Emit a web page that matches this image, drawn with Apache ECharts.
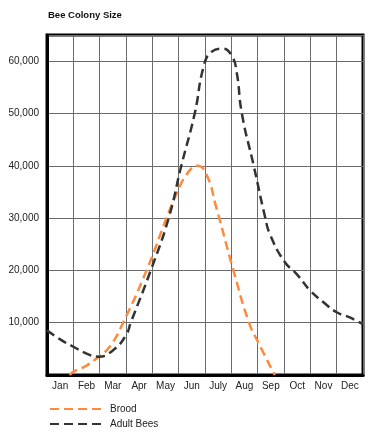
<!DOCTYPE html>
<html>
<head>
<meta charset="utf-8">
<script src="https://cdn.jsdelivr.net/npm/echarts@6/dist/echarts.min.js"></script>
<style>
  html, body { margin: 0; padding: 0; background: #fff; }
  #chart { width: 382px; height: 438px; }
</style>
</head>
<body>
<div id="chart"></div>
<script>
// Month labels (category axis)
var months = ['Jan', 'Feb', 'Mar', 'Apr', 'May', 'Jun', 'July', 'Aug', 'Sep', 'Oct', 'Nov', 'Dec'];

// Brood: position in months from start of Jan, and colony count
var broodX = [0.86, 1.0, 1.5, 1.96, 2.38, 2.89, 3.78, 4.54, 4.95, 5.3, 5.7, 6.05, 6.43, 7.08, 7.67, 7.98, 8.65];
var broodY = [0, 600, 1800, 3500, 5400, 10000, 20000, 30000, 35000, 38300, 40000, 38400, 32000, 20000, 10000, 6650, 0];

// Adult bees
var adultX = [0, 0.5, 1.0, 1.5, 1.95, 2.5, 3.0, 3.18, 3.94, 4.62, 5.10, 5.61, 5.95, 6.25, 6.68, 7.02, 7.2, 7.40, 7.85, 8.29, 8.46, 9.0, 9.5, 10.0, 10.5, 11.0, 11.5, 12.0];
var adultY = [8550, 6800, 5400, 4100, 3500, 4700, 7600, 10000, 20000, 30000, 40000, 50000, 59000, 61800, 62400, 61000, 58000, 50000, 40000, 30000, 27000, 21800, 19200, 16100, 13900, 12000, 11000, 9700];

var seriesNames = ['Brood', 'Adult Bees'];

function pairs(xs, ys) {
  return xs.map(function (x, i) { return [x, ys[i]]; });
}

var font = '"Liberation Sans", Arial, sans-serif';
var chart = echarts.init(document.getElementById('chart'), null, { renderer: 'canvas' });

chart.setOption({
  animation: false,
  backgroundColor: '#ffffff',
  title: {
    text: 'Bee Colony Size',
    left: 48,
    top: 10,
    padding: 0,
    textStyle: { fontFamily: font, fontSize: 9.5, fontWeight: 'bold', color: '#111' }
  },
  legend: {
    orient: 'vertical',
    left: 49,
    top: 404,
    padding: 0,
    itemWidth: 51,
    itemHeight: 10,
    itemGap: 5,
    itemStyle: { color: 'rgba(0,0,0,0)', borderColor: 'rgba(0,0,0,0)', borderWidth: 0, opacity: 0 },
    textStyle: { fontFamily: font, fontSize: 10, color: '#222', padding: [0, 0, 0, 4] },
    data: seriesNames
  },
  grid: {
    left: 47,
    right: 19,
    top: 35,
    bottom: 63,
    show: true,
    borderColor: '#000',
    borderWidth: 3,
    containLabel: false
  },
  xAxis: [
    {
      type: 'category',
      data: months,
      boundaryGap: true,
      axisLine: { show: true, lineStyle: { color: '#000', width: 3 } },
      axisTick: { show: false },
      splitLine: { show: true, interval: 0, lineStyle: { color: '#6b6b6b', width: 1 } },
      axisLabel: { interval: 0, margin: 6, fontFamily: font, fontSize: 10, color: '#222' }
    },
    {
      type: 'value',
      min: 0,
      max: 12,
      show: false
    }
  ],
  yAxis: {
    type: 'value',
    min: 0,
    max: 65000,
    interval: 10000,
    axisLine: { show: true, lineStyle: { color: '#000', width: 3 } },
    axisTick: { show: false },
    splitLine: { show: true, lineStyle: { color: '#6b6b6b', width: 1 } },
    axisLabel: {
      margin: 8,
      fontFamily: font,
      fontSize: 10,
      color: '#222',
      showMinLabel: false,
      showMaxLabel: false,
      formatter: function (v) { return v === 0 ? '' : v.toLocaleString('en-US'); }
    }
  },
  series: [
    {
      name: seriesNames[0],
      type: 'line',
      xAxisIndex: 1,
      smooth: 0.5,
      symbol: 'none',
      data: pairs(broodX, broodY),
      lineStyle: { color: '#ff8a3d', width: 2.5, type: [9, 5] },
      itemStyle: { color: '#ff8a3d' },
      z: 3
    },
    {
      name: seriesNames[1],
      type: 'line',
      xAxisIndex: 1,
      smooth: 0.5,
      symbol: 'none',
      data: pairs(adultX, adultY),
      lineStyle: { color: '#333333', width: 2.5, type: [9, 5] },
      itemStyle: { color: '#333333' },
      z: 4
    }
  ]
});
</script>
</body>
</html>
